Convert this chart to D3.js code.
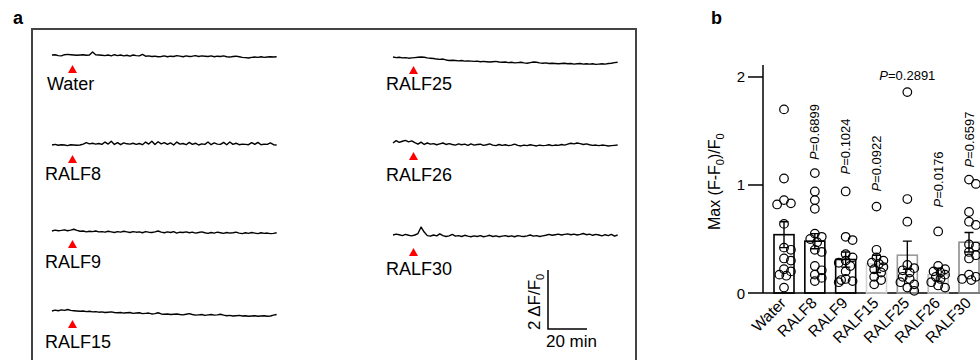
<!DOCTYPE html>
<html><head><meta charset="utf-8">
<script src="https://cdn.jsdelivr.net/npm/d3@7"></script>
<style>
body{margin:0;background:#fff;}
svg{font-family:"Liberation Sans",Arial,sans-serif;display:block;}
</style></head>
<body>
<svg id="c" width="980" height="360"></svg>
<script>
// ---------------- DATA ----------------
// Panel a: calcium traces (ΔF/F0 relative to start), sampled every 1.6 min
const sampleMin = 1.6;
const stimulusMin = 10.5;
const traceNames = ["Water","RALF8","RALF9","RALF15","RALF25","RALF26","RALF30"];
const waterTrace = [0.00,0.01,-0.02,-0.03,0.01,0.02,0.01,0.00,-0.01,0.00,0.01,-0.01,0.00,0.10,0.01,0.00,-0.01,-0.02,0.00,-0.03,0.01,-0.02,0.00,-0.03,-0.01,-0.04,0.00,-0.02,-0.03,0.02,-0.04,-0.03,-0.05,-0.04,-0.06,-0.05,-0.03,-0.06,-0.04,-0.05,-0.02,-0.04,-0.06,-0.03,-0.05,-0.04,-0.02,-0.05,-0.03,-0.04,-0.05,-0.03,-0.06,-0.04,-0.05,-0.03,-0.06,-0.07,-0.05,-0.04,-0.06,-0.08,-0.09,-0.10,-0.08,-0.07,-0.08,-0.06,-0.08,-0.07,-0.06,-0.07,-0.06];
const ralf8Trace = [0.00,0.02,-0.01,0.01,0.00,-0.02,0.01,0.00,-0.01,0.00,0.03,0.08,0.04,0.06,0.03,0.05,0.02,0.10,0.03,0.13,0.02,0.08,0.01,0.07,0.04,0.03,0.06,0.02,0.05,0.01,0.10,0.03,0.13,0.02,0.11,0.04,0.08,0.02,0.07,0.00,0.10,0.03,0.05,0.01,0.09,0.02,0.06,0.00,0.04,0.02,0.10,0.01,0.07,0.03,0.02,0.09,0.01,0.10,0.02,0.06,0.01,0.03,0.02,0.01,0.08,0.02,0.09,0.01,0.03,0.02,0.07,0.01,0.00];
const ralf9Trace = [0.00,0.03,0.01,0.02,0.04,0.01,0.03,0.06,0.02,-0.01,0.00,-0.03,-0.01,-0.02,0.00,-0.03,-0.02,-0.04,-0.01,-0.03,-0.05,-0.02,-0.04,-0.01,-0.03,-0.05,-0.02,-0.04,-0.03,-0.06,-0.02,-0.04,-0.05,-0.03,0.00,-0.04,-0.06,-0.03,-0.05,-0.02,-0.07,-0.04,-0.05,-0.03,-0.06,-0.04,-0.07,-0.05,-0.03,-0.06,-0.08,-0.05,-0.07,-0.04,-0.06,-0.08,-0.05,-0.07,-0.06,-0.04,-0.07,-0.09,-0.06,-0.08,-0.05,-0.07,-0.09,-0.06,-0.08,-0.07,-0.09,-0.08,-0.06];
const ralf15Trace = [0.00,0.03,0.01,0.04,0.02,0.05,0.02,0.01,0.00,-0.01,0.00,-0.02,-0.01,-0.03,-0.02,-0.04,-0.03,-0.05,-0.04,-0.03,-0.05,-0.06,-0.05,-0.07,-0.06,-0.05,-0.08,-0.07,-0.06,-0.09,-0.08,-0.07,-0.10,-0.09,-0.06,-0.10,-0.11,-0.10,-0.12,-0.11,-0.10,-0.12,-0.13,-0.11,-0.09,-0.12,-0.14,-0.13,-0.12,-0.15,-0.13,-0.12,-0.14,-0.13,-0.11,-0.14,-0.16,-0.15,-0.17,-0.16,-0.15,-0.17,-0.16,-0.18,-0.17,-0.16,-0.18,-0.17,-0.16,-0.18,-0.17,-0.14,-0.12];
const ralf25Trace = [0.00,-0.02,-0.01,-0.03,-0.02,-0.04,-0.03,-0.02,-0.01,0.00,-0.01,-0.03,-0.04,-0.05,-0.07,-0.08,-0.07,-0.10,-0.12,-0.11,-0.12,-0.13,-0.12,-0.14,-0.13,-0.14,-0.15,-0.14,-0.16,-0.15,-0.16,-0.17,-0.16,-0.15,-0.17,-0.18,-0.17,-0.19,-0.18,-0.20,-0.19,-0.18,-0.20,-0.21,-0.19,-0.17,-0.18,-0.20,-0.21,-0.20,-0.22,-0.21,-0.22,-0.23,-0.22,-0.21,-0.23,-0.22,-0.24,-0.23,-0.22,-0.24,-0.23,-0.24,-0.23,-0.25,-0.24,-0.23,-0.24,-0.22,-0.21,-0.19,-0.18];
const ralf26Trace = [0.00,0.08,0.02,0.06,0.09,0.04,0.07,0.01,-0.04,0.03,-0.05,0.00,-0.04,-0.02,-0.06,-0.03,0.00,-0.05,-0.02,-0.05,-0.07,-0.03,-0.06,-0.04,-0.08,-0.03,-0.07,-0.05,-0.04,-0.08,-0.06,-0.03,-0.07,-0.09,-0.05,-0.08,-0.06,-0.09,-0.07,-0.04,-0.08,-0.10,-0.07,-0.09,-0.06,-0.08,-0.10,-0.07,-0.09,-0.08,-0.06,-0.09,-0.07,-0.08,-0.05,-0.07,-0.04,-0.01,-0.03,0.00,-0.02,-0.05,-0.03,-0.06,-0.08,-0.07,-0.09,-0.07,-0.08,-0.10,-0.09,-0.08,-0.07];
const ralf30Trace = [0.00,0.03,0.01,-0.02,0.02,-0.01,-0.03,0.00,0.05,0.27,0.10,-0.02,-0.04,0.00,-0.03,0.04,-0.02,-0.05,-0.03,0.02,-0.04,-0.02,-0.05,-0.01,-0.04,-0.06,-0.03,-0.05,-0.02,-0.06,-0.04,-0.01,-0.05,-0.03,-0.06,-0.04,-0.02,-0.05,-0.03,-0.06,-0.02,-0.04,-0.05,-0.03,0.00,-0.04,-0.02,-0.05,-0.03,-0.01,0.02,-0.01,0.01,0.03,0.00,0.02,0.04,0.01,0.03,0.00,0.02,0.05,0.01,0.03,-0.01,0.02,0.00,-0.03,0.01,-0.02,0.02,-0.04,0.00];
const scaleBarDff = 2;
const scaleBarMin = 20;

// Panel b: Max (F-F0)/F0 per treatment
const categories = ["Water","RALF8","RALF9","RALF15","RALF25","RALF26","RALF30"];
const barMeans = [0.54,0.48,0.31,0.27,0.35,0.17,0.47];
const barSems  = [0.12,0.07,0.07,0.08,0.13,0.06,0.09];
const waterPts  = [1.70,1.06,0.86,0.83,0.82,0.64,0.42,0.40,0.32,0.30,0.22,0.20,0.17,0.16,0.05];
const ralf8Pts  = [1.11,0.94,0.86,0.78,0.55,0.52,0.50,0.47,0.40,0.38,0.25,0.21,0.17,0.14,0.11];
const ralf9Pts  = [0.94,0.52,0.49,0.36,0.33,0.30,0.28,0.25,0.20,0.13,0.11,0.10,0.12];
const ralf15Pts = [0.80,0.40,0.33,0.30,0.28,0.27,0.24,0.22,0.19,0.15,0.12,0.08];
const ralf25Pts = [1.86,0.87,0.66,0.26,0.23,0.21,0.19,0.15,0.13,0.10,0.08,0.05,0.02];
const ralf26Pts = [0.57,0.25,0.22,0.20,0.19,0.17,0.15,0.13,0.10,0.07,0.05];
const ralf30Pts = [1.05,1.01,0.75,0.66,0.63,0.45,0.43,0.38,0.35,0.32,0.17,0.15,0.13,0.12];
const pLabels = ["", "P=0.6899", "P=0.1024", "P=0.0922", "P=0.2891", "P=0.0176", "P=0.6597"];
const yTicks = [0, 1, 2];

// ---------------- LAYOUT / STYLE ----------------
const traces = [waterTrace, ralf8Trace, ralf9Trace, ralf15Trace, ralf25Trace, ralf26Trace, ralf30Trace];
const points = [waterPts, ralf8Pts, ralf9Pts, ralf15Pts, ralf25Pts, ralf26Pts, ralf30Pts];
const traceLayout = [
  {x0:52,  base:55,  tip:65,  lab:90,  labX:47},
  {x0:52,  base:145, tip:155, lab:180, labX:45},
  {x0:52,  base:231, tip:240, lab:268, labX:45},
  {x0:52,  base:311, tip:320, lab:348, labX:45},
  {x0:393, base:57,  tip:66,  lab:90,  labX:386},
  {x0:393, base:143, tip:152, lab:181, labX:386},
  {x0:393, base:235, tip:248, lab:275, labX:386}
];
const barStroke = ["#000","#000","#000","#d4d4d4","#9a9a9a","#bdbdbd","#8c8c8c"];
const pGapPx = [0, 13, 17, 15, 12, 24, 12];

const svg = d3.select("#c");

// panel letters
svg.append("text").attr("x", 13).attr("y", 24).attr("font-size", 18).attr("font-weight", "bold").text("a");
svg.append("text").attr("x", 711).attr("y", 24).attr("font-size", 18).attr("font-weight", "bold").text("b");

// ---- Panel a ----
svg.append("rect").attr("x", 32).attr("y", 29).attr("width", 604).attr("height", 360)
  .attr("fill", "none").attr("stroke", "#444").attr("stroke-width", 2);

const tScale = d3.scaleLinear().domain([0, scaleBarMin]).range([0, 39]);
const dScale = d3.scaleLinear().domain([0, scaleBarDff]).range([0, -59]);
const line = d3.line().x((d, i) => tScale(i * sampleMin)).y(d => dScale(d));

traces.forEach((tr, k) => {
  const L = traceLayout[k];
  const g = svg.append("g").attr("transform", `translate(${L.x0},${L.base})`);
  g.append("path").datum(tr).attr("d", line).attr("fill", "none")
    .attr("stroke", "#000").attr("stroke-width", 1.4).attr("stroke-linejoin", "round");
  const sx = L.x0 + tScale(stimulusMin);
  svg.append("path")
    .attr("d", `M${sx},${L.tip}L${sx + 4.5},${L.tip + 8}L${sx - 4.5},${L.tip + 8}Z`)
    .attr("fill", "#ff0000");
  svg.append("text").attr("x", L.labX).attr("y", L.lab).attr("font-size", 18).text(traceNames[k]);
});

// scale bar
const sb = svg.append("g").attr("transform", "translate(548,329)");
sb.append("path").attr("d", `M0,${dScale(scaleBarDff)}V0H${tScale(scaleBarMin)}`)
  .attr("fill", "none").attr("stroke", "#000").attr("stroke-width", 1.5);
sb.append("text").attr("x", tScale(scaleBarMin) / 2 + 4).attr("y", 18).attr("text-anchor", "middle")
  .attr("font-size", 17).text(`${scaleBarMin} min`);
const vt = sb.append("text").attr("transform", "translate(-8,1) rotate(-90)").attr("font-size", 17);
vt.append("tspan").text(`${scaleBarDff} ΔF/F`);
vt.append("tspan").attr("font-size", 11).attr("dy", 4).text("0");

// ---- Panel b ----
const y = d3.scaleLinear().domain([0, 2.111]).range([293, 65]);
const x = d3.scalePoint().domain(categories).range([784, 969]);
const axX = 763;

svg.append("line").attr("x1", axX).attr("x2", axX).attr("y1", y(2.111)).attr("y2", y(0))
  .attr("stroke", "#000").attr("stroke-width", 1.5);
svg.append("line").attr("x1", axX).attr("x2", 980).attr("y1", y(0)).attr("y2", y(0))
  .attr("stroke", "#000").attr("stroke-width", 1.5);
yTicks.forEach(t => {
  svg.append("line").attr("x1", axX - 15).attr("x2", axX).attr("y1", y(t)).attr("y2", y(t))
    .attr("stroke", "#000").attr("stroke-width", 1.5);
  svg.append("text").attr("x", axX - 18).attr("y", y(t) + 5.5).attr("text-anchor", "end")
    .attr("font-size", 15).text(t);
});
const yl = svg.append("text").attr("transform", `translate(720,${y(1.03)}) rotate(-90)`)
  .attr("text-anchor", "middle").attr("font-size", 16);
yl.append("tspan").text("Max (F-F");
yl.append("tspan").attr("font-size", 11).attr("dy", 4).text("0");
yl.append("tspan").attr("dy", -4).text(")/F");
yl.append("tspan").attr("font-size", 11).attr("dy", 4).text("0");

const bw = 20;
categories.forEach((c, k) => {
  const cx = x(c);
  svg.append("rect").attr("x", cx - bw / 2).attr("y", y(barMeans[k]))
    .attr("width", bw).attr("height", y(0) - y(barMeans[k]))
    .attr("fill", "none").attr("stroke", barStroke[k]).attr("stroke-width", 1.6);
});

// points with simple dodge
const r = 4.3;
categories.forEach((c, k) => {
  const cx = x(c);
  const placed = [];
  points[k].forEach(v => {
    const py = y(v);
    let best = 0, bestD = -1;
    for (const kk of [0, 1, -1, 2, -2, 3, -3]) {
      const ox = kk * 2.3;
      const dmin = placed.length ? d3.min(placed, p => Math.hypot(p.x - ox, p.y - py)) : 99;
      if (dmin >= 2 * r * 0.75) { best = ox; bestD = 99; break; }
      if (dmin > bestD) { bestD = dmin; best = ox; }
    }
    placed.push({x: best, y: py});
    svg.append("circle").attr("cx", cx + best).attr("cy", py).attr("r", r)
      .attr("fill", "none").attr("stroke", "#000").attr("stroke-width", 1.2);
  });
});

// error bars
categories.forEach((c, k) => {
  const cx = x(c);
  const hi = y(barMeans[k] + barSems[k]), lo = y(barMeans[k] - barSems[k]);
  svg.append("path").attr("d", `M${cx},${hi}V${lo}M${cx - 4.5},${hi}H${cx + 4.5}M${cx - 4.5},${lo}H${cx + 4.5}`)
    .attr("stroke", "#000").attr("stroke-width", 1.4).attr("fill", "none");
});

// P labels
categories.forEach((c, k) => {
  if (!pLabels[k]) return;
  const cx = x(c);
  const top = y(d3.max(points[k])) - pGapPx[k];
  const [pp, rest] = [pLabels[k].slice(0, 1), pLabels[k].slice(1)];
  let t;
  if (c === "RALF25") {
    t = svg.append("text").attr("x", cx).attr("y", top).attr("text-anchor", "middle").attr("font-size", 13);
  } else {
    t = svg.append("text").attr("transform", `translate(${cx + 4.5},${top}) rotate(-90)`).attr("font-size", 13);
  }
  t.append("tspan").attr("font-style", "italic").text(pp);
  t.append("tspan").text(rest);
});

// x labels
categories.forEach(c => {
  svg.append("text").attr("transform", `translate(${x(c) + 3},${y(0) + 11}) rotate(-45)`)
    .attr("text-anchor", "end").attr("font-size", 15.5).text(c);
});
</script>
</body></html>
